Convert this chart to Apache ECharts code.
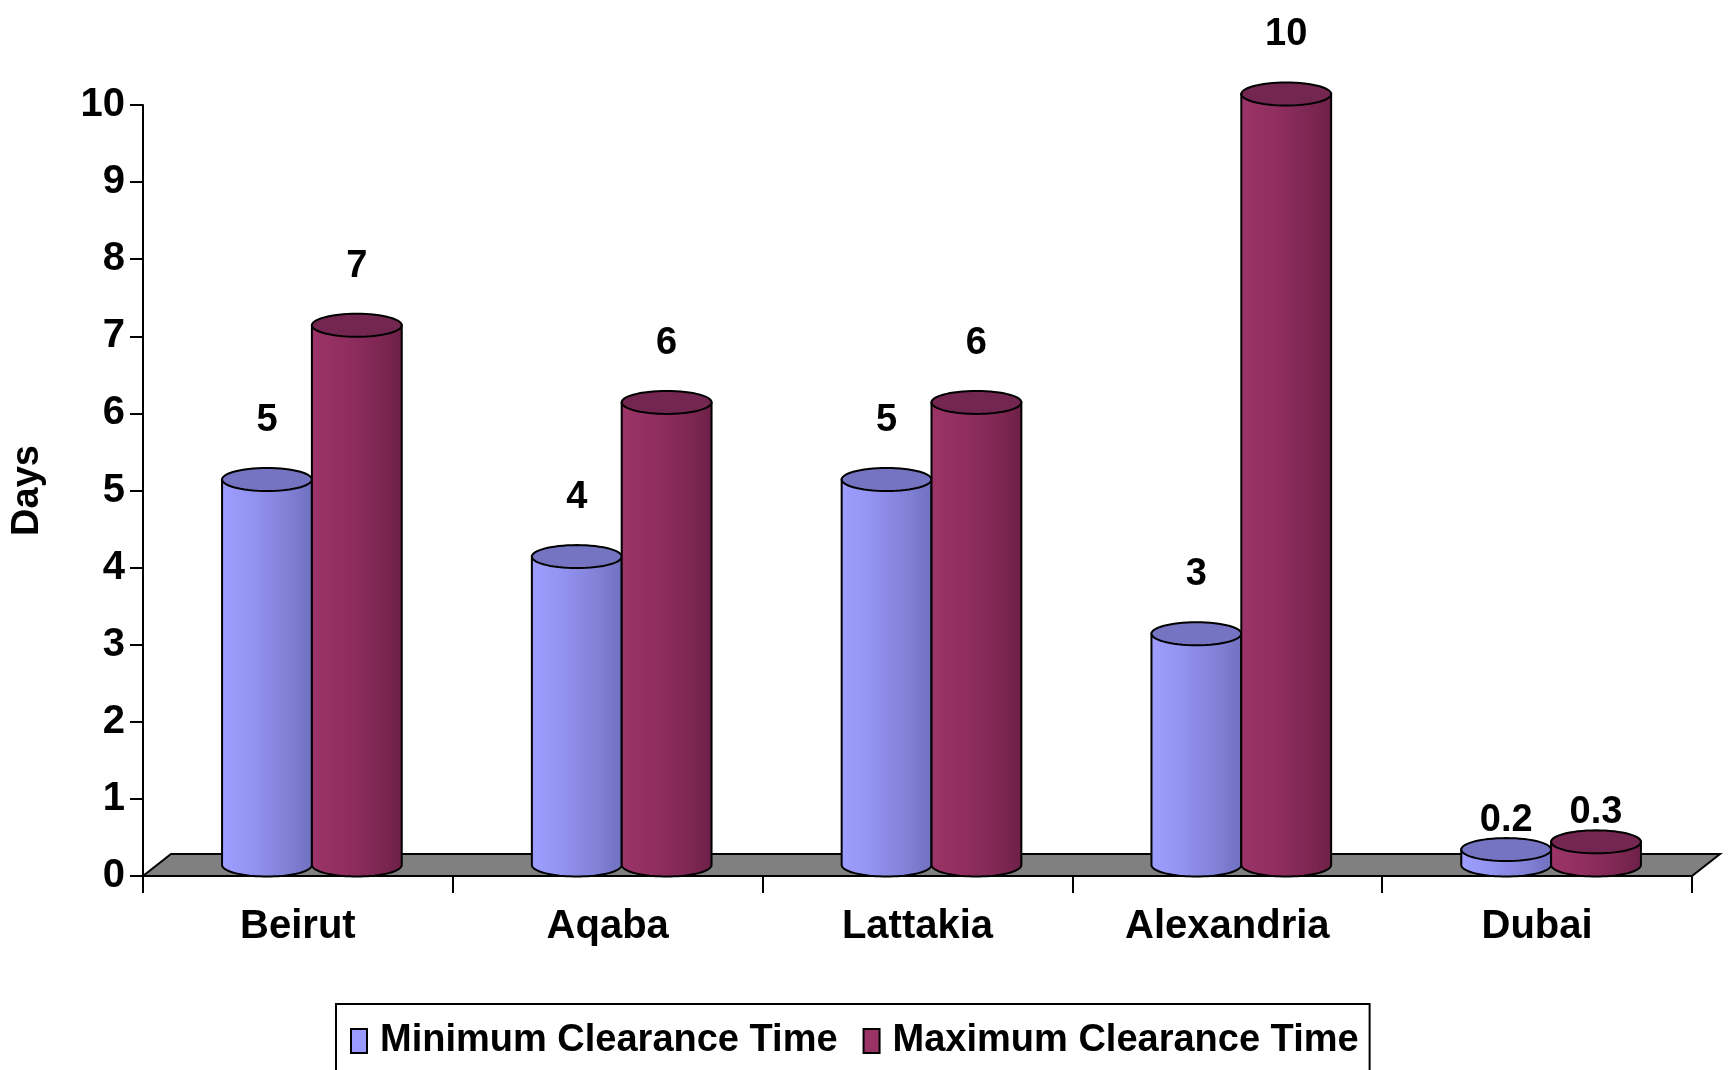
<!DOCTYPE html>
<html>
<head>
<meta charset="utf-8">
<script src="https://cdn.jsdelivr.net/npm/echarts@6/dist/echarts.min.js"></script>
<style>
html,body{margin:0;padding:0;background:#fff;}
#chart{width:1728px;height:1070px;}
</style>
</head>
<body>
<div id="chart"></div>
<script>
const categories = ['Beirut', 'Aqaba', 'Lattakia', 'Alexandria', 'Dubai'];
const minTime = [5, 4, 5, 3, 0.2];
const maxTime = [7, 6, 6, 10, 0.3];
const seriesNames = ['Minimum Clearance Time', 'Maximum Clearance Time'];

const FONT = '"Liberation Sans", Arial, sans-serif';
const DX = 28, DY = 22;

function ellipsePts(cx, cy, rx, ry, a0, a1, n) {
  const pts = [];
  for (let i = 0; i <= n; i++) {
    const a = a0 + (a1 - a0) * i / n;
    pts.push([cx + rx * Math.cos(a), cy + ry * Math.sin(a)]);
  }
  return pts;
}

function makeCylinder(isMin) {
  const bodyGrad = isMin
    ? [{offset:0,color:'#9e9eff'},{offset:0.35,color:'#9292f0'},{offset:0.7,color:'#8282d8'},{offset:1,color:'#7070c0'}]
    : [{offset:0,color:'#9c3468'},{offset:0.4,color:'#8f2e5f'},{offset:0.75,color:'#7e2753'},{offset:1,color:'#6c2047'}];
  const topColor = isMin ? '#7474c2' : '#722650';
  return function (params, api) {
    const cat = api.value(0), val = api.value(1);
    const c = api.coord([cat, val]);
    const b = api.coord([cat, 0]);
    const cw = api.size([1, 0])[0];
    const w = cw * 0.29;
    const cx = c[0] + DX / 2 + (isMin ? -w / 2 : w / 2);
    const rx = w / 2, ry = 11.5;
    const topY = c[1] - DY / 2;
    const baseY = b[1] - DY / 2;
    const body = [[cx - rx, topY], [cx - rx, baseY]]
      .concat(ellipsePts(cx, baseY, rx, ry, Math.PI, 0, 40).slice(1))
      .concat([[cx + rx, topY]]);
    const top = ellipsePts(cx, topY, rx, ry, 0, Math.PI * 2, 60);
    const lift = val < 1 ? 40 : 70;
    return {
      type: 'group',
      children: [
        {
          type: 'polygon',
          shape: { points: body },
          style: {
            fill: new echarts.graphic.LinearGradient(0, 0, 1, 0, bodyGrad),
            stroke: '#000', lineWidth: 2
          }
        },
        {
          type: 'polygon',
          shape: { points: top },
          style: { fill: topColor, stroke: '#000', lineWidth: 2 }
        },
        {
          type: 'text',
          style: {
            text: String(val),
            x: cx, y: c[1] - lift,
            align: 'center', verticalAlign: 'middle',
            font: 'bold 38px ' + FONT, fill: '#000'
          }
        }
      ]
    };
  };
}

function renderFloor(params, api) {
  const cw = api.size([1, 0])[0];
  const first = api.coord([0, 0]);
  const last = api.coord([categories.length - 1, 0]);
  const L = first[0] - cw / 2, R = last[0] + cw / 2, B = first[1];
  return {
    type: 'polygon',
    shape: { points: [[L, B], [R, B], [R + DX, B - DY], [L + DX, B - DY]] },
    style: { fill: '#808080', stroke: '#000', lineWidth: 2 }
  };
}

const chart = echarts.init(document.getElementById('chart'), null, { renderer: 'canvas' });
chart.setOption({
  animation: false,
  backgroundColor: '#ffffff',
  grid: { left: 143, right: 36, top: 105, bottom: 194, containLabel: false },
  legend: {
    data: seriesNames,
    left: 336, top: 1004,
    orient: 'horizontal',
    icon: 'rect',
    itemWidth: 16, itemHeight: 24, itemGap: 25,
    borderColor: '#000', borderWidth: 2,
    padding: [18, 11, 40, 14],
    itemStyle: { borderColor: '#000', borderWidth: 2 },
    textStyle: { fontFamily: FONT, fontWeight: 'bold', fontSize: 38, color: '#000', padding: [0, 0, 0, 8] }
  },
  xAxis: {
    type: 'category',
    data: categories,
    boundaryGap: true,
    axisLine: { show: true, lineStyle: { color: '#000', width: 2 } },
    axisTick: { show: true, length: 17, lineStyle: { color: '#000', width: 2 } },
    axisLabel: { margin: 31, fontFamily: FONT, fontWeight: 'bold', fontSize: 40, color: '#000' },
    splitLine: { show: false }
  },
  yAxis: {
    type: 'value',
    min: 0, max: 10, interval: 1,
    name: 'Days',
    nameLocation: 'middle',
    nameRotate: 90,
    nameGap: 96,
    nameTextStyle: { fontFamily: FONT, fontWeight: 'bold', fontSize: 38, color: '#000' },
    axisLine: { show: true, lineStyle: { color: '#000', width: 2 } },
    axisTick: { show: true, length: 13, lineStyle: { color: '#000', width: 2 } },
    axisLabel: { margin: 18, fontFamily: FONT, fontWeight: 'bold', fontSize: 40, color: '#000' },
    splitLine: { show: false }
  },
  series: [
    {
      name: 'floor', type: 'custom', z: 1, silent: true,
      renderItem: renderFloor,
      data: [[0, 0]],
      encode: { x: 0, y: 1 }
    },
    {
      name: seriesNames[0], type: 'custom', z: 2,
      itemStyle: { color: '#9999ff', borderColor: '#000', borderWidth: 2 },
      renderItem: makeCylinder(true),
      data: categories.map((c, i) => [i, minTime[i]]),
      encode: { x: 0, y: 1 }
    },
    {
      name: seriesNames[1], type: 'custom', z: 3,
      itemStyle: { color: '#993366', borderColor: '#000', borderWidth: 2 },
      renderItem: makeCylinder(false),
      data: categories.map((c, i) => [i, maxTime[i]]),
      encode: { x: 0, y: 1 }
    }
  ]
});
</script>
</body>
</html>
